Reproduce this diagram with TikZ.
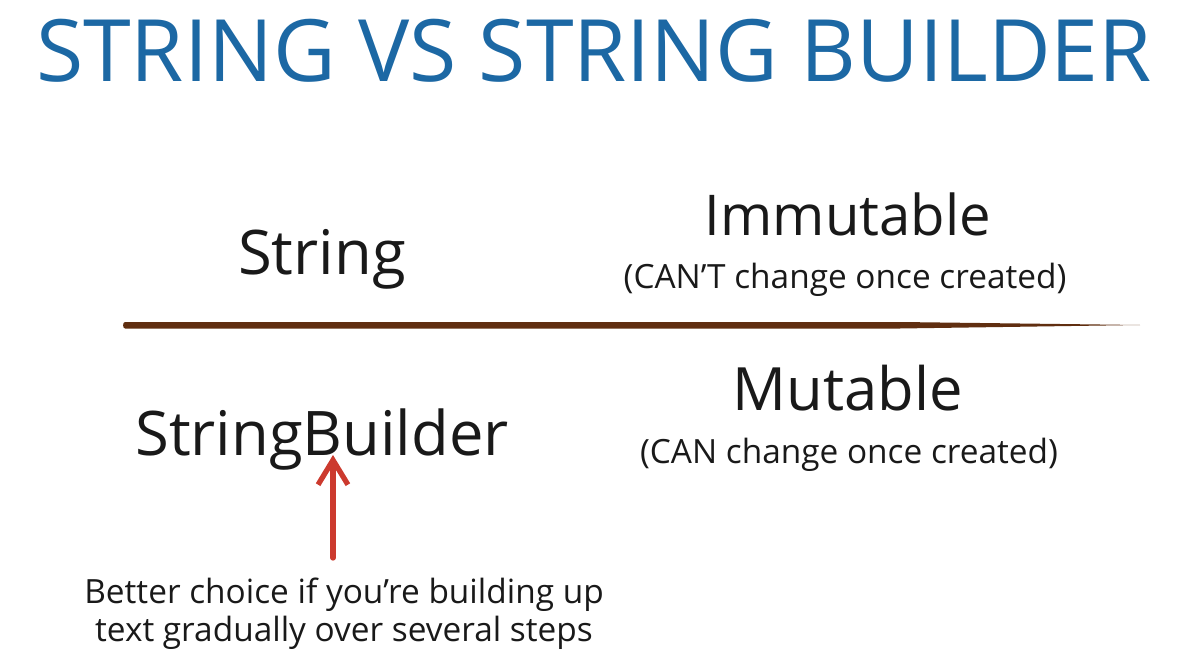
\documentclass[tikz,border=0pt]{standalone}
\usepackage{fontspec}
\setmainfont{Open Sans}
\usepackage{tikz}
\usetikzlibrary{positioning,arrows.meta,calc}

\definecolor{titleblue}{RGB}{28,104,164}
\definecolor{rulebrown}{RGB}{96,46,16}
\definecolor{arrowred}{RGB}{204,58,46}

\begin{document}
\begin{tikzpicture}[x=0.02cm,y=-0.02cm,
  heading/.style={anchor=base,text=titleblue,font=\fontsize{49}{52}\selectfont},
  term/.style={anchor=base,text=black!90,font=\fontsize{35}{40}\selectfont},
  hint/.style={anchor=base,text=black!90,font=\fontsize{19}{22}\selectfont},
  note/.style={anchor=north,align=center,text=black!90,font=\fontsize{19}{21.5}\selectfont},
  pointer/.style={draw=arrowred,line width=3pt,line cap=round,
    -{Straight Barb[length=14pt,width=17pt,line width=3pt]}}]

  \useasboundingbox (0,0) rectangle (1192,658);

  \node[heading] (title) at (594,82) {STRING VS STRING BUILDER};

  \node[term] (str) at (322,275) {String};
  \node[term,font=\fontsize{32}{36}\selectfont] (imm) at (848,236) {Immutable};
  \node[hint] (cant) at (845,289) {(CAN'T change once created)};

  % dividing line
  \fill[rulebrown] (125,322) -- (900,322) -- (1140,325) -- (900,328.5) -- (125,328.5)
    to[out=180,in=180] cycle;

  \node[term] (sb) at (322,455) {StringBuilder};
  \node[term,font=\fontsize{34}{38}\selectfont] (mut) at (848,410) {Mutable};
  \node[hint] (can) at (849,463) {(CAN change once created)};

  \node[note] (tip) at (344,572) {Better choice if you're building up\\text gradually over several steps};

  \coordinate (head) at (333,455);
  \draw[pointer] (tip.north -| head) ++(0,-14) -- (head);

\end{tikzpicture}
\end{document}
